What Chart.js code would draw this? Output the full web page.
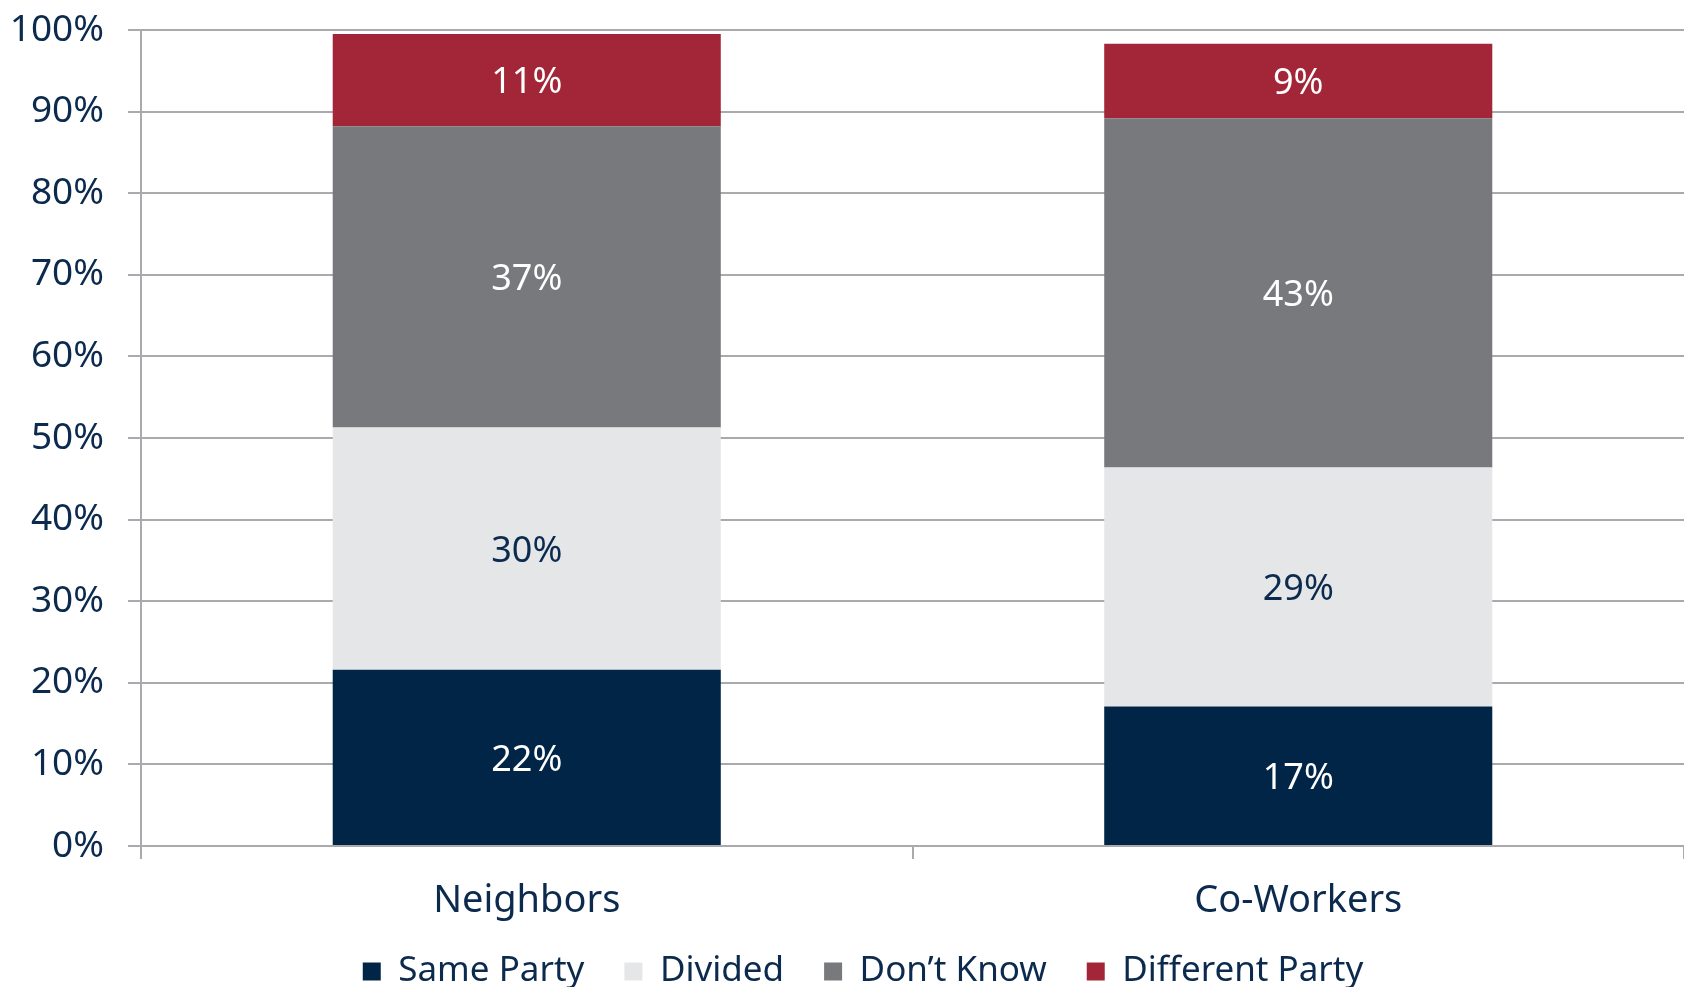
<!DOCTYPE html>
<html>
<head>
<meta charset="utf-8">
<script src="https://cdn.jsdelivr.net/npm/chart.js@4.4.1/dist/chart.umd.min.js"></script>
<style>
html, body { margin:0; padding:0; background:#fff; }
#wrap { width:1684px; height:987px; position:relative; }
</style>
</head>
<body>
<div id="wrap"><canvas id="partyChart"></canvas></div>
<script>
// data
const categories = ['Neighbors', 'Co-Workers'];
const seriesNames = ['Same Party', 'Divided', 'Don\u2019t Know', 'Different Party'];
const samePartyValues = [21.6, 17.1];
const dividedValues = [29.7, 29.3];
const dontKnowValues = [36.9, 42.8];
const differentPartyValues = [11.3, 9.1];
const yTicks = [0, 10, 20, 30, 40, 50, 60, 70, 80, 90, 100];

const colors = ['#012547', '#E5E6E8', '#78797D', '#A32638'];
const labelColors = ['#ffffff', '#0B2A4E', '#ffffff', '#ffffff'];
const navy = '#0B2A4E';
const gridColor = '#A9AAAE';
const fontFamily = '"Noto Sans", sans-serif';

// draw the % labels in the middle of each segment
const segmentLabels = {
  id: 'segmentLabels',
  afterDatasetsDraw(chart){
    const ctx = chart.ctx;
    ctx.save();
    ctx.font = '36px ' + fontFamily;
    ctx.textAlign = 'center';
    ctx.textBaseline = 'middle';
    chart.data.datasets.forEach((ds, i) => {
      const meta = chart.getDatasetMeta(i);
      meta.data.forEach((bar, j) => {
        ctx.fillStyle = labelColors[i];
        ctx.fillText(Math.round(ds.data[j]) + '%', bar.x, (bar.y + bar.base) / 2 + 3);
      });
    });
    ctx.restore();
  }
};

// legend sits a bit right of centre and close under the axis labels
const legendShift = {
  id: 'legendShift',
  afterLayout(chart){
    chart.legend.left += 21;
    chart.legend.right += 21;
    chart.legend.top -= 22;
    chart.legend.bottom -= 22;
  }
};

const allValues = [samePartyValues, dividedValues, dontKnowValues, differentPartyValues];

const ctx = document.getElementById('partyChart').getContext('2d');
const partyChart = new Chart(ctx, {
  type: 'bar',
  data: {
    labels: categories,
    datasets: seriesNames.map((name, i) => ({
      label: name,
      data: allValues[i],
      backgroundColor: colors[i],
      borderWidth: 0,
      barPercentage: 0.503,
      categoryPercentage: 1
    }))
  },
  options: {
    responsive: true,
    maintainAspectRatio: false,
    animation: false,
    layout: { padding: { top: 30, right: 0, left: 0, bottom: -34 } },
    plugins: {
      legend: {
        position: 'bottom',
        labels: {
          color: navy,
          font: { family: fontFamily, size: 35 },
          boxWidth: 18,
          boxHeight: 18,
          padding: 40
        }
      },
      tooltip: { enabled: false }
    },
    scales: {
      x: {
        stacked: true,
        afterFit: s => { s.height = 90; s.paddingLeft = 0; s.paddingRight = 0; },
        grid: { drawOnChartArea: false, drawTicks: true, tickLength: 13, color: gridColor, lineWidth: 2, offset: true },
        border: { color: gridColor, width: 2 },
        ticks: { color: navy, font: { family: fontFamily, size: 38 }, padding: 19 }
      },
      y: {
        stacked: true,
        min: 0,
        max: 100,
        afterBuildTicks: s => { s.ticks = yTicks.map(v => ({ value: v })); },
        afterFit: s => { s.width = 141; s.paddingTop = 0; s.paddingBottom = 0; },
        grid: { color: gridColor, lineWidth: 2, tickLength: 13 },
        border: { color: gridColor, width: 2 },
        ticks: { color: navy, font: { family: fontFamily, size: 37 }, padding: 24, callback: v => v + '%' }
      }
    }
  },
  plugins: [segmentLabels, legendShift]
});
</script>
</body>
</html>
